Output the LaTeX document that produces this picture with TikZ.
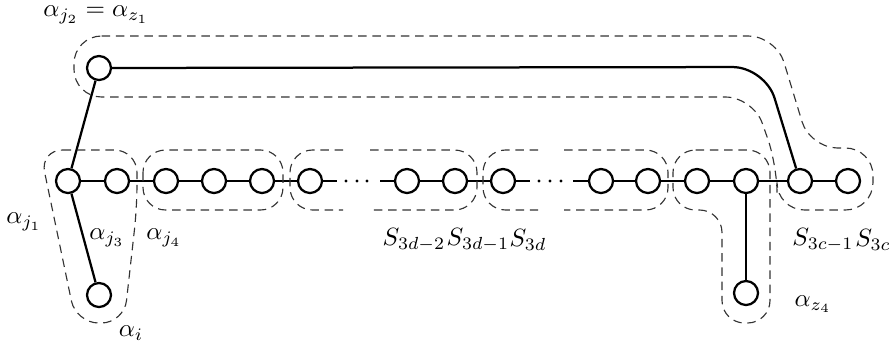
\documentclass[tikz,border=0pt]{standalone}
\begin{document}
\begin{tikzpicture}[x=0.4pt,y=-0.4pt,
  vtx/.style={circle,draw,line width=0.9pt,minimum size=9.6pt,inner sep=0pt},
  dotv/.style={circle,fill,minimum size=1.3pt,inner sep=0pt},
  edge/.style={line width=0.9pt},
  grp/.style={dash pattern=on 3.4pt off 2.3pt,line width=0.45pt,draw=black!80,rounded corners=9pt},
  lbl/.style={inner sep=0pt}]
\useasboundingbox (0,0) rectangle (892,348);
% vertices
\node[vtx] (j2) at (99,68) {};
\node[vtx] (j1) at (68,181) {};
\node[vtx] (j3) at (117,181) {};
\node[vtx] (ai) at (99,295) {};
\node[vtx] (j4) at (166,181) {};
\node[vtx] (a5) at (214,181) {};
\node[vtx] (a6) at (262,181) {};
\node[vtx] (b1) at (310,181) {};
\node[dotv] (d1) at (346,181) {};
\node[dotv] (d2) at (357,181) {};
\node[dotv] (d3) at (367,181) {};
\node[vtx] (b2) at (407,181) {};
\node[vtx] (b3) at (455,181) {};
\node[vtx] (c1) at (503,181) {};
\node[dotv] (d4) at (539,181) {};
\node[dotv] (d5) at (550,181) {};
\node[dotv] (d6) at (561,181) {};
\node[vtx] (c2) at (601,181) {};
\node[vtx] (c3) at (648,181) {};
\node[vtx] (z2) at (697,181) {};
\node[vtx] (z3) at (746,181) {};
\node[vtx] (z4) at (746,293) {};
\node[vtx] (s1) at (800,181) {};
\node[vtx] (s2) at (848,181) {};
\coordinate (e1) at (337,181);
\coordinate (e2) at (380,181);
\coordinate (e3) at (530,181);
\coordinate (e4) at (573,181);
\coordinate (bend) at (765,67);
% edges
\draw[edge] (j2) -- (j1);
\draw[edge] (j1) -- (ai);
\draw[edge] (j1) -- (j3);
\draw[edge] (j3) -- (j4);
\draw[edge] (j4) -- (a5);
\draw[edge] (a5) -- (a6);
\draw[edge] (a6) -- (b1);
\draw[edge] (b1) -- (e1);
\draw[edge] (e2) -- (b2);
\draw[edge] (b2) -- (b3);
\draw[edge] (b3) -- (c1);
\draw[edge] (c1) -- (e3);
\draw[edge] (e4) -- (c2);
\draw[edge] (c2) -- (c3);
\draw[edge] (c3) -- (z2);
\draw[edge] (z2) -- (z3);
\draw[edge] (z3) -- (s1);
\draw[edge] (s1) -- (s2);
\draw[edge] (z3) -- (z4);
\draw[edge,rounded corners=13pt] (j2) -- (bend) -- (s1);
% dashed groups
\draw[grp] (40,150) -- (137,150) -- (137,207) -- (124,323) -- (76,323) -- cycle;
\draw[grp] (143,150) rectangle (283,210);
\draw[grp] (343,150) -- (290,150) -- (290,210) -- (343,210);
\draw[grp] (370,150) -- (477,150) -- (477,210) -- (370,210);
\draw[grp] (538,150) -- (483,150) -- (483,210) -- (538,210);
\draw[grp] (564,150) -- (668,150) -- (668,210) -- (564,210);
\draw[grp] (673,150) -- (770,150) -- (770,323) -- (722,323) -- (722,210) -- (673,210) -- cycle;
\draw[grp,rounded corners=11pt] (74,36) -- (776,36) -- (810,148) -- (873,148) -- (873,210) -- (777,210) -- (777,165) -- (753,97) -- (74,97) -- cycle;
% labels
\node[lbl] (lj2) at (96,15) {$\alpha_{j_2}=\alpha_{z_1}$};
\node[lbl] (lj1) at (24,222) {$\alpha_{j_1}$};
\node[lbl] (lj3) at (107,238) {$\alpha_{j_3}$};
\node[lbl] (lj4) at (164,238) {$\alpha_{j_4}$};
\node[lbl] (li) at (131,333) {$\alpha_{i}$};
\node[lbl] (ls1) at (414,240) {$S_{3d-2}$};
\node[lbl] (ls2) at (478,240) {$S_{3d-1}$};
\node[lbl] (ls3) at (528,240) {$S_{3d}$};
\node[lbl] (ls4) at (823,240) {$S_{3c-1}$};
\node[lbl] (ls5) at (873,240) {$S_{3c}$};
\node[lbl] (lz4) at (813,304) {$\alpha_{z_4}$};
\end{tikzpicture}
\end{document}
